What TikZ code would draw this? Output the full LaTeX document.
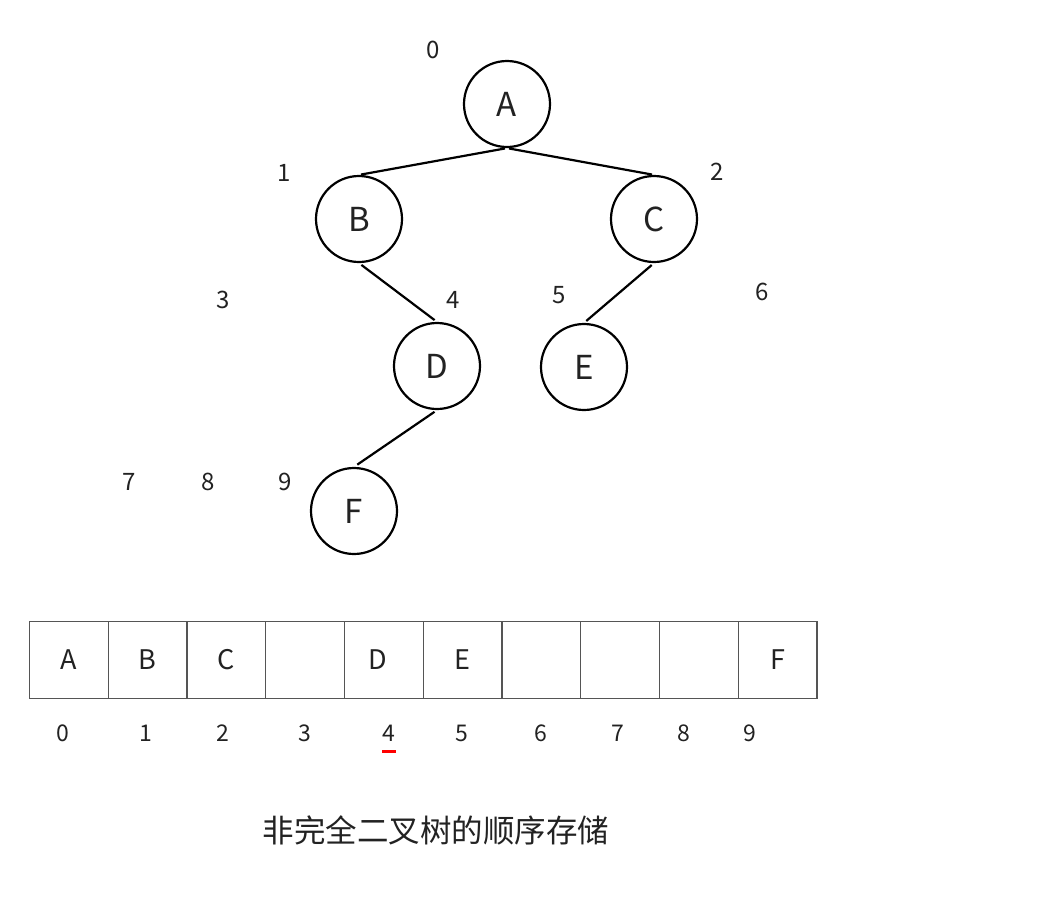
\documentclass[tikz,border=0pt]{standalone}
\usepackage{fontspec}
\setmainfont{Noto Sans CJK SC}
\usepackage{tikz}
\definecolor{inkgray}{HTML}{222222}
\definecolor{cellgray}{HTML}{555555}
\newcommand{\treestate}[3]{
	\node [draw, fill=white, circle, line width=2.2pt, minimum size=86pt, inner sep=0pt, font=\fontsize{33}{33}\selectfont, text=inkgray] (#1) at (#2) {#3};}
\newcommand{\treeindex}[3]{
	\node [font=\fontsize{24}{24}\selectfont, text=inkgray] (#1) at (#2) {#3};}
\newcommand{\arraycell}[3]{
	\node [draw=cellgray, line width=1.3pt, minimum width=78.75pt, minimum height=77pt, inner sep=0pt, font=\fontsize{27}{27}\selectfont, text=inkgray] (#1) at (#2) {#3};}
\newcommand{\cellindex}[3]{
	\node [font=\fontsize{23}{23}\selectfont, text=inkgray] (#1) at (#2) {#3};}

\begin{document}
\begin{tikzpicture}[x=1pt,y=-1pt,line width=2.2pt]
	\useasboundingbox (0,0) rectangle (1037,898);
	% tree
	\treestate{A}{507,104}{A}
	\treestate{B}{359,219}{B}
	\treestate{C}{654,219}{C}
	\treestate{D}{437,366}{D}
	\treestate{E}{584,367}{E}
	\treestate{F}{354,511}{F}
	\draw [shorten <=2pt, shorten >=2pt] (A.south) -- (B.north);
	\draw [shorten <=2pt, shorten >=2pt] (A.south) -- (C.north);
	\draw [shorten <=3pt, shorten >=3pt] (B.south) -- (D.north);
	\draw [shorten <=3pt, shorten >=3pt] (C.south) -- (E.north);
	\draw [shorten <=3pt, shorten >=4pt] (D.south) -- (F.north);
	% positions in the tree
	\treeindex{t0}{433,50}{0}
	\treeindex{t1}{284,173}{1}
	\treeindex{t2}{717,172}{2}
	\treeindex{t3}{223,300}{3}
	\treeindex{t4}{453,300}{4}
	\treeindex{t5}{559,295}{5}
	\treeindex{t6}{762,292}{6}
	\treeindex{t7}{129,482}{7}
	\treeindex{t8}{208,482}{8}
	\treeindex{t9}{285,482}{9}
	% array
	\arraycell{c0}{68.9,660}{A}
	\arraycell{c1}{147.6,660}{B}
	\arraycell{c2}{226.4,660}{C}
	\arraycell{c3}{305.1,660}{}
	\arraycell{c4}{383.9,660}{\hspace{-12pt}D}
	\arraycell{c5}{462.6,660}{E}
	\arraycell{c6}{541.4,660}{}
	\arraycell{c7}{620.1,660}{}
	\arraycell{c8}{698.9,660}{}
	\arraycell{c9}{777.6,660}{F}
	\cellindex{i0}{63,733}{0}
	\cellindex{i1}{146,733}{1}
	\cellindex{i2}{223,733}{2}
	\cellindex{i3}{305,733}{3}
	\cellindex{i4}{389,733}{4}
	\cellindex{i5}{462,733}{5}
	\cellindex{i6}{541,733}{6}
	\cellindex{i7}{618,733}{7}
	\cellindex{i8}{684,733}{8}
	\cellindex{i9}{750,733}{9}
	\draw [red, line width=3pt] ([xshift=-7pt,yshift=-18pt]i4.center) -- ([xshift=7pt,yshift=-18pt]i4.center);
	% caption
	\node [font=\fontsize{31.5}{31.5}\selectfont, text=inkgray] (caption) at (436,830) {非完全二叉树的顺序存储};
\end{tikzpicture}
\end{document}
